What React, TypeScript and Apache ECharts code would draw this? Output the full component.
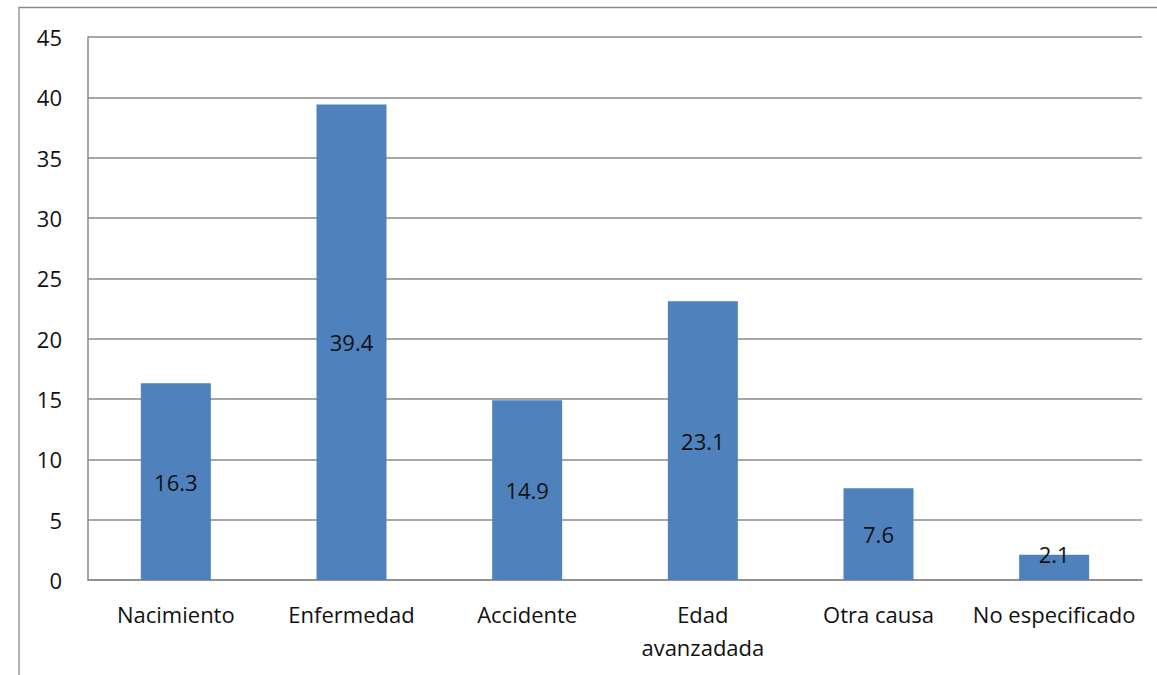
import React, { useEffect, useRef } from "react";
import * as echarts from "echarts";

const categories = ["Nacimiento", "Enfermedad", "Accidente", "Edad\navanzadada", "Otra causa", "No especificado"];
const values = [16.3, 39.4, 14.9, 23.1, 7.6, 2.1];
const yTicks = [0, 5, 10, 15, 20, 25, 30, 35, 40, 45];

const FONT = "'Open Sans', sans-serif";

export default function App() {
  const ref = useRef<HTMLDivElement>(null);
  useEffect(() => {
    if (!ref.current) return;
    const chart = echarts.init(ref.current, null, { renderer: "svg" });
    const data = values.map((v) =>
      v < 4
        ? { value: v, label: { offset: [0, -13] } }
        : { value: v }
    );
    chart.setOption({
      animation: false,
      backgroundColor: "#ffffff",
      graphic: [
        {
          type: "rect",
          shape: { x: 19, y: 7.5, width: 1300, height: 800 },
          style: { fill: "none", stroke: "#8a8a8a", lineWidth: 1.3 },
          silent: true,
        },
      ],
      grid: { left: 88, right: 15, top: 37, bottom: 95, containLabel: false },
      xAxis: {
        type: "category",
        data: categories,
        axisLine: { show: true, lineStyle: { color: "#8a8a8a", width: 1.5 } },
        axisTick: { show: false },
        axisLabel: {
          interval: 0,
          margin: 17,
          fontFamily: FONT,
          fontSize: 22,
          color: "#111",
          lineHeight: 33,
        },
      },
      yAxis: {
        type: "value",
        min: yTicks[0],
        max: yTicks[yTicks.length - 1],
        interval: 5,
        axisLine: { show: true, lineStyle: { color: "#8a8a8a", width: 1.5 } },
        axisTick: { show: false },
        splitLine: { show: true, lineStyle: { color: "#8a8a8a", width: 1.5 } },
        axisLabel: {
          margin: 26,
          fontFamily: FONT,
          fontSize: 22,
          color: "#111",
        },
      },
      series: [
        {
          type: "bar",
          data,
          barWidth: 70,
          itemStyle: { color: "#4F81BD" },
          label: {
            show: true,
            position: "inside",
            fontFamily: FONT,
            fontSize: 22,
            color: "#111",
            formatter: (p: any) => Number(p.value).toFixed(1),
          },
        },
      ],
    });
    return () => chart.dispose();
  }, []);
  return (
    <div
      ref={ref}
      style={{ position: "fixed", left: 0, top: 0, width: 1157, height: 675 }}
    />
  );
}
